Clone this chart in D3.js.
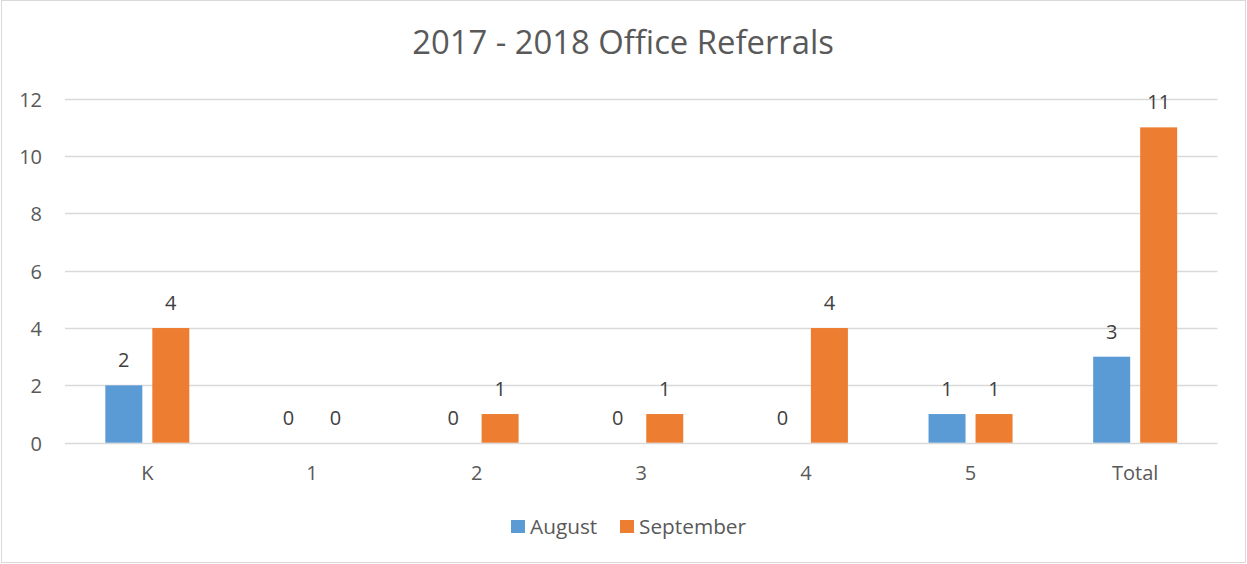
<!DOCTYPE html>
<html>
<head>
<meta charset="utf-8">
<script src="https://cdn.jsdelivr.net/npm/d3@7"></script>
<style>
  body { margin: 0; background: #fff; }
  text { font-family: "Open Sans", "Noto Sans", sans-serif; }
</style>
</head>
<body>
<svg id="chart" width="1247" height="564"></svg>
<script>
// data
let categories = ["K", "1", "2", "3", "4", "5", "Total"];
let seriesNames = ["August", "September"];
let august = [2, 0, 0, 0, 0, 1, 3];
let september = [4, 0, 1, 1, 4, 1, 11];
let yTicks = [0, 2, 4, 6, 8, 10, 12];

let width = 1247, height = 564;
let colors = ["#5b9bd5", "#ed7d31"];
let textColor = "#595959";
let gridColor = "#d9d9d9";
let labelSize = "20px";

let svg = d3.select("#chart");

// chart border
svg.append("rect")
    .attr("x", 1.5).attr("y", 0.5)
    .attr("width", width - 3).attr("height", height - 2)
    .attr("fill", "#fff")
    .attr("stroke", gridColor);

let x = d3.scaleBand()
    .domain(categories)
    .range([65, 1217.5]);

let y = d3.scaleLinear()
    .domain([0, 12])
    .range([442.7, 98.7]);

let rows = categories.map(function(c, i) {
    return { cat: c, values: [august[i], september[i]] };
});

// gridlines
svg.append("g")
    .selectAll("line")
    .data(yTicks)
    .join("line")
    .attr("x1", x.range()[0])
    .attr("x2", x.range()[1])
    .attr("y1", d => Math.round(y(d)) + 0.5)
    .attr("y2", d => Math.round(y(d)) + 0.5)
    .attr("stroke", gridColor)
    .attr("stroke-width", 1.5);

// y axis labels
let yAxis = d3.axisLeft(y).tickValues(yTicks).tickSize(0).tickPadding(0);
let yg = svg.append("g")
    .attr("transform", "translate(42,0)")
    .call(yAxis);
yg.select(".domain").remove();
yg.selectAll("text")
    .attr("dy", "0.38em")
    .style("font-family", "'Open Sans', sans-serif")
    .style("font-size", labelSize)
    .attr("fill", textColor);

// x axis labels
let xAxis = d3.axisBottom(x).tickSize(0).tickPadding(0);
let xg = svg.append("g")
    .attr("transform", "translate(0,466)")
    .call(xAxis);
xg.select(".domain").remove();
xg.selectAll("text")
    .style("font-family", "'Open Sans', sans-serif")
    .style("font-size", labelSize)
    .attr("fill", textColor);

// bars
let barW = 37, barGap = 10;
let groups = svg.append("g")
    .selectAll("g")
    .data(rows)
    .join("g")
    .attr("transform", d => "translate(" + (x(d.cat) + x.bandwidth() / 2 - barW - barGap / 2) + ",0)");

groups.selectAll("rect")
    .data(d => d.values)
    .join("rect")
    .attr("x", (d, i) => i * (barW + barGap))
    .attr("y", d => y(d))
    .attr("width", barW)
    .attr("height", d => y(0) - y(d))
    .attr("fill", (d, i) => colors[i]);

// value labels
groups.selectAll("text")
    .data(d => d.values)
    .join("text")
    .attr("x", (d, i) => i * (barW + barGap) + barW / 2)
    .attr("y", d => y(d) - 18)
    .attr("text-anchor", "middle")
    .style("font-size", labelSize)
    .attr("fill", "#404040")
    .text(d => d);

// title
svg.append("text")
    .attr("x", 623)
    .attr("y", 54)
    .attr("text-anchor", "middle")
    .style("font-size", "32.8px")
    .attr("fill", textColor)
    .text("2017 - 2018 Office Referrals");

// legend
let legendX = [511, 620];
let legend = svg.append("g")
    .selectAll("g")
    .data(seriesNames)
    .join("g")
    .attr("transform", (d, i) => "translate(" + legendX[i] + ",520)");
legend.append("rect")
    .attr("width", 14)
    .attr("height", 13)
    .attr("fill", (d, i) => colors[i]);
legend.append("text")
    .attr("x", 19)
    .attr("y", 14)
    .style("font-size", "20.8px")
    .attr("fill", textColor)
    .text(d => d);
</script>
</body>
</html>
